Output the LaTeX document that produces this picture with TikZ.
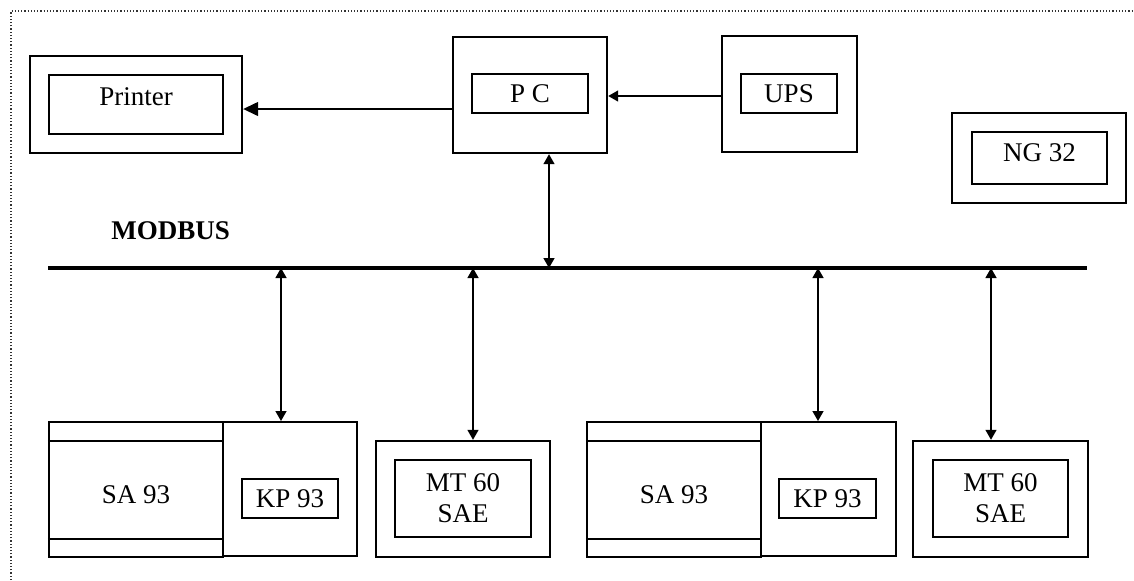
\documentclass[tikz,border=0pt]{standalone}
\usepackage{fontspec}
\setmainfont{Liberation Serif}
\usetikzlibrary{arrows.meta}

\begin{document}
\begin{tikzpicture}[x=0.5pt,y=-0.5pt,font=\fontsize{13.5}{15.5}\selectfont]
    \tikzset{outerbox/.style={draw,line width=1.2pt,inner sep=0pt},
      innerbox/.style={draw,line width=1pt,inner sep=0pt,align=center},
      link/.style={line width=0.7pt,-{Triangle[length=5pt,width=5.5pt]}},
      duplex/.style={line width=0.7pt,{Triangle[length=5pt,width=5.5pt]}-{Triangle[length=5pt,width=5.5pt]}}}
    \useasboundingbox (0,0) rectangle (1134,580);
    \draw[densely dotted,line width=0.6pt,black!80] (11,580) -- (11,11) -- (1134,11);
    % top row
    \node[outerbox,minimum width=106pt,minimum height=48.5pt] (printerbox) at (136,104.5) {};
    \node[innerbox,minimum width=87pt,minimum height=29.5pt,text depth=8pt] (printer) at (136,104.5) {Printer};
    \node[outerbox,minimum width=77pt,minimum height=58pt] (pcbox) at (530,95) {};
    \node[innerbox,minimum width=58pt,minimum height=19.5pt] (pc) at (530,93.5) {P C};
    \node[outerbox,line width=1pt,minimum width=67.5pt,minimum height=58pt] (upsbox) at (789.5,94) {};
    \node[innerbox,minimum width=48pt,minimum height=19.5pt] (ups) at (789,93.5) {UPS};
    \node[outerbox,minimum width=87pt,minimum height=45pt] (ngbox) at (1039,158) {};
    \node[innerbox,minimum width=67.5pt,minimum height=26pt,text depth=5pt] (ng) at (1039.5,158) {NG 32};
    % bus
    \coordinate (busL) at (48,268);
    \coordinate (busR) at (1087,268);
    \draw[line width=2.2pt] (busL) -- (busR);
    \node[font=\bfseries\fontsize{13.5}{15.5}\selectfont,anchor=base west,inner sep=0pt] (modbus) at (111,239) {MODBUS};
    \coordinate (tappc) at (549,268);
    \coordinate (tapkpa) at (281,268);
    \coordinate (tapmta) at (473,268);
    \coordinate (tapkpb) at (818,268);
    \coordinate (tapmtb) at (991,268);
    % bottom row
    \node[outerbox,minimum width=87pt,minimum height=67.5pt,text height=14pt,text depth=0pt] (saa) at (136,489.5) {SA 93};
    \draw[line width=1.2pt] ([yshift=-10pt]saa.north west) -- ([yshift=-10pt]saa.north east);
    \draw[line width=1.2pt] ([yshift=9.5pt]saa.south west) -- ([yshift=9.5pt]saa.south east);
    \node[outerbox,line width=1pt,minimum width=67pt,minimum height=67pt] (kpabox) at (290,489) {};
    \node[innerbox,minimum width=48pt,minimum height=19.5pt] (kpa) at (290,498.5) {KP 93};
    \node[outerbox,minimum width=87pt,minimum height=58pt] (mtabox) at (463,499) {};
    \node[innerbox,minimum width=68pt,minimum height=38.5pt] (mta) at (463,498.5) {MT 60\\SAE};
    \node[outerbox,minimum width=87pt,minimum height=67.5pt,text height=14pt,text depth=0pt] (sab) at (674,489.5) {SA 93};
    \draw[line width=1.2pt] ([yshift=-10pt]sab.north west) -- ([yshift=-10pt]sab.north east);
    \draw[line width=1.2pt] ([yshift=9.5pt]sab.south west) -- ([yshift=9.5pt]sab.south east);
    \node[outerbox,line width=1pt,minimum width=67.5pt,minimum height=67pt] (kpbbox) at (828.5,489) {};
    \node[innerbox,minimum width=48.5pt,minimum height=19.5pt] (kpb) at (827.5,498.5) {KP 93};
    \node[outerbox,minimum width=87.5pt,minimum height=58pt] (mtbbox) at (1000.5,499) {};
    \node[innerbox,minimum width=67.5pt,minimum height=38.5pt] (mtb) at (1000.5,498.5) {MT 60\\SAE};
    % connectors
    \draw[link,-{Triangle[length=7.5pt,width=7pt]}] (pcbox.west |- 0,109) -- (printerbox.east |- 0,109);
    \draw[link] (upsbox.west |- 0,96) -- (pcbox.east |- 0,96);
    \draw[duplex] (pcbox.south -| tappc) -- (tappc);
    \draw[duplex] (tapkpa) -- (kpabox.north -| tapkpa);
    \draw[duplex] (tapmta) -- (mtabox.north -| tapmta);
    \draw[duplex] (tapkpb) -- (kpbbox.north -| tapkpb);
    \draw[duplex] (tapmtb) -- (mtbbox.north -| tapmtb);
  \end{tikzpicture}
\end{document}
